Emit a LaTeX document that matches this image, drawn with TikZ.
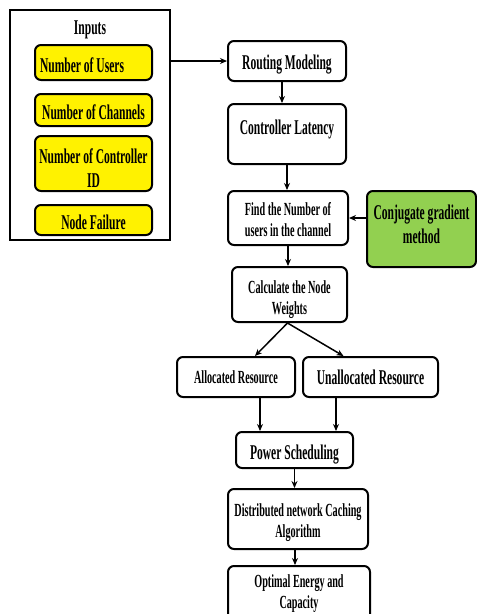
\documentclass[tikz,border=0pt]{standalone}
\usepackage{fontspec}
\setmainfont[FakeStretch=0.55]{Liberation Serif}
\usetikzlibrary{arrows.meta,calc}
\definecolor{boxgreen}{RGB}{146,208,80}
\newcommand{\tx}[2]{\raisebox{#1}[\height][\depth]{\begin{tabular}{@{}c@{}}#2\end{tabular}}}
\begin{document}
\begin{tikzpicture}[x=1pt,y=-1pt,
  big/.style={font=\bfseries\fontsize{21}{24}\selectfont},
  small/.style={font=\bfseries\fontsize{18.5}{21}\selectfont},
  stepbox/.style={draw=black,line width=2pt,rounded corners=6pt,fill=white,align=center,inner sep=0pt},
  inbox/.style={stepbox,fill=yellow,minimum width=117pt},
  arr/.style={line width=1.5pt,-{Stealth[length=7pt,width=6pt]}}]
\useasboundingbox (0,0) rectangle (477,614);
\clip (0,0) rectangle (477,614);
\fill[white] (0,0) rectangle (477,614);
% inputs group
\node[draw=black,line width=2pt,minimum width=160pt,minimum height=230pt,inner sep=0pt] (inputs) at (90,125) {};
\node[big] (inlabel) at (90,30) {Inputs};
\node[inbox,big,minimum height=35pt] (users) at (93.5,62.5) {\raisebox{-3pt}[\height][\depth]{\makebox[107pt][l]{Number of Users}}};
\node[inbox,big,minimum height=32pt] (channels) at (93.5,110) {\tx{-5pt}{Number of Channels}};
\node[inbox,big,minimum height=55pt] (ctrlid) at (93.5,163.5) {\tx{-7pt}{Number of Controller\\ID}};
\node[inbox,big,minimum height=30pt] (failure) at (93.5,220) {\tx{-5pt}{Node Failure}};
% main flow
\node[stepbox,big,minimum width=118pt,minimum height=40pt] (routing) at (287,61) {\tx{-4pt}{Routing Modeling}};
\node[stepbox,big,minimum width=118pt,minimum height=60pt] (latency) at (287,134) {\tx{4pt}{Controller Latency}};
\node[stepbox,small,minimum width=120pt,minimum height=54pt] (find) at (288,218) {\tx{-4pt}{Find the Number of\\users in the channel}};
\node[stepbox,big,fill=boxgreen,minimum width=109pt,minimum height=76pt] (conj) at (421.5,229) {\tx{2pt}{Conjugate gradient\\method}};
\node[stepbox,small,minimum width=115pt,minimum height=55pt] (calc) at (289.5,294.5) {\tx{-5pt}{Calculate the Node\\Weights}};
\node[stepbox,small,minimum width=118pt,minimum height=40pt] (alloc) at (236,377) {Allocated Resource};
\node[stepbox,big,minimum width=135pt,minimum height=40pt] (unalloc) at (370.5,377) {Unallocated Resource};
\node[stepbox,big,minimum width=117pt,minimum height=36pt] (power) at (294.5,450) {\tx{-5pt}{Power Scheduling}};
\node[stepbox,small,minimum width=140pt,minimum height=60pt] (dist) at (298,519) {\tx{-4pt}{Distributed network Caching\\Algorithm}};
\node[stepbox,small,minimum width=142pt,minimum height=56pt,anchor=north] (optimal) at (299,565) {\tx{0pt}{Optimal Energy and\\Capacity}};
% connectors
\draw[arr] (inputs.east |- routing.west) -- (routing.west);
\draw[arr] ([xshift=-5pt]routing.south) -- ([xshift=-5pt]latency.north);
\draw[arr] (latency.south) -- (latency.south |- find.north);
\draw[arr] (conj.west |- find.east) -- (find.east);
\draw[arr] (find.south) -- (find.south |- calc.north);
\draw[arr] ([xshift=-2pt]calc.south) -- ([xshift=19pt]alloc.north);
\draw[arr] ([xshift=-2pt]calc.south) -- ([xshift=-27pt]unalloc.north);
\draw[arr] ([xshift=24pt]alloc.south) -- ([xshift=24pt]alloc.south |- power.north);
\draw[arr] ([xshift=-34.5pt]unalloc.south) -- ([xshift=-34.5pt]unalloc.south |- power.north);
\draw[arr] (power.south) -- (power.south |- dist.north);
\draw[arr] ([xshift=-3pt]dist.south) -- ([xshift=-3pt]dist.south |- optimal.north);
\end{tikzpicture}
\end{document}
